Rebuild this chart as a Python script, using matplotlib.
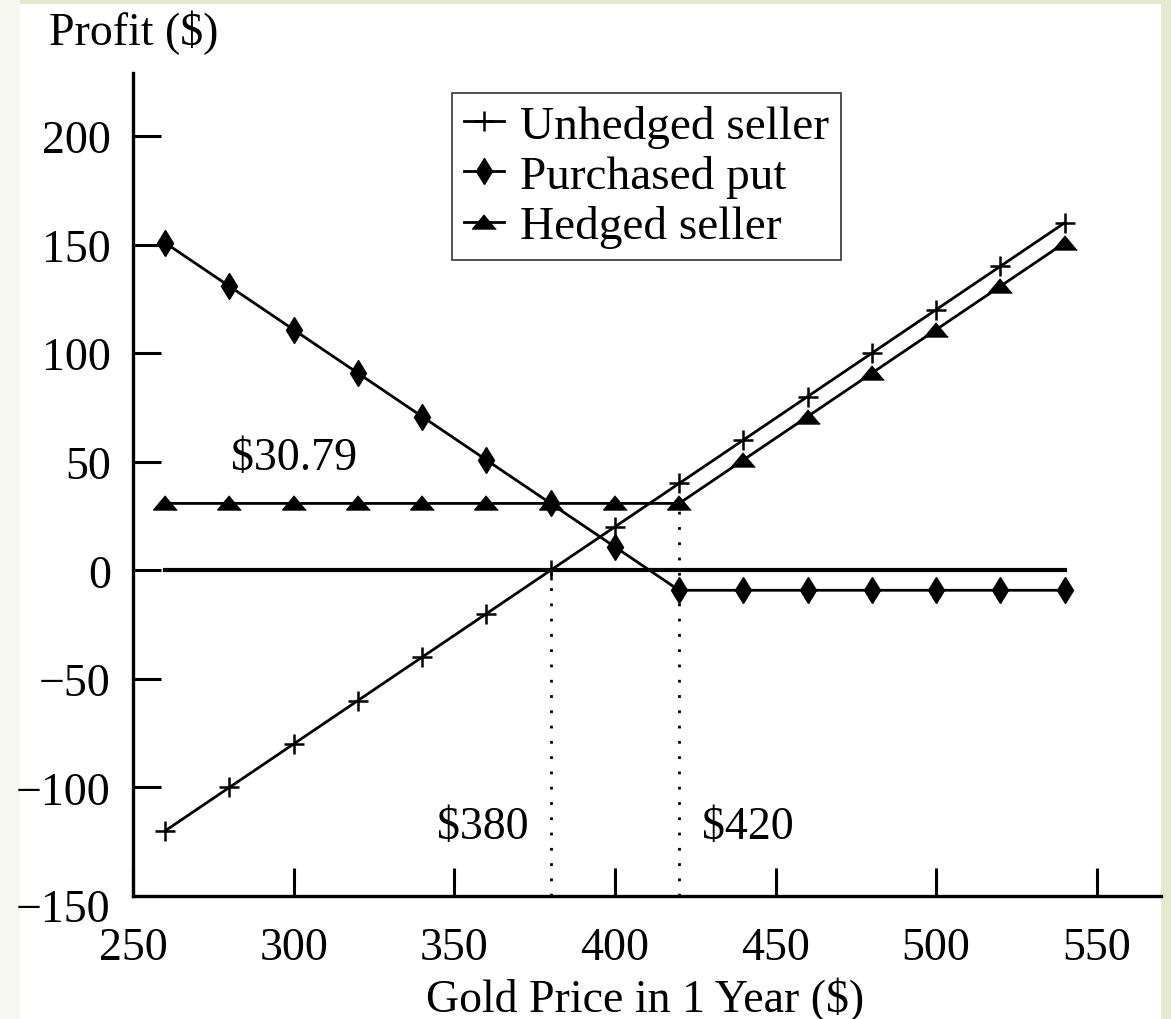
import numpy as np
import matplotlib
matplotlib.use('Agg')
import matplotlib.pyplot as plt
from matplotlib.patches import Rectangle

plt.rcParams['font.family'] = ['Liberation Serif', 'DejaVu Serif']

# gold price in one year and the profit of each position
price = [260, 280, 300, 320, 340, 360, 380, 400, 420, 440, 460, 480, 500, 520, 540]
unhedged = [-120, -100, -80, -60, -40, -20, 0, 20, 40, 60, 80, 100, 120, 140, 160]
put = [150.79, 130.79, 110.79, 90.79, 70.79, 50.79, 30.79, 10.79,
       -9.21, -9.21, -9.21, -9.21, -9.21, -9.21, -9.21]
hedged = [30.79, 30.79, 30.79, 30.79, 30.79, 30.79, 30.79, 30.79,
          30.79, 50.79, 70.79, 90.79, 110.79, 130.79, 150.79]

xticks = [250, 300, 350, 400, 450, 500, 550]
yticks = [-150, -100, -50, 0, 50, 100, 150, 200]

fs = 33
fig = plt.figure(figsize=(11.71, 10.20), dpi=100)
fig.patch.set_facecolor('#e2ebcd')
# white page over the green border, kept behind the axes
fig.add_artist(Rectangle((20/1171, 0), (1161-20)/1171, 1-5/1020,
                         transform=fig.transFigure, facecolor='white',
                         edgecolor='none', zorder=-10))
fig.add_artist(Rectangle((0, 0), 20/1171, 1, transform=fig.transFigure,
                         facecolor='#f6f7ee', edgecolor='none', zorder=-10))

ax = fig.add_axes([133/1171, 1-897/1020, (1161-133)/1171, (897-74)/1020])
ax.set_facecolor('none')

tri = [(0, 0.65), (-1, -0.55), (1, -0.55)]
ax.plot(price, unhedged, color='black', lw=2.0, marker='+', ms=15, mew=1.8,
        label='Unhedged seller', zorder=3)
ax.plot(price, put, color='black', lw=2.0, marker='d', ms=13,
        label='Purchased put', zorder=3)
ax.plot(price, hedged, color='black', lw=2.0, marker=tri, ms=17,
        label='Hedged seller', zorder=3)

# zero line and strike markers
ax.plot([price[0], price[-1]], [0, 0], color='black', lw=3.0, zorder=2)
ax.plot([380, 380], [-150, 0], color='black', lw=2.0, ls=(0, (1, 4.5)), zorder=2)
ax.plot([420, 420], [-150, 30.79], color='black', lw=2.0, ls=(0, (1, 4.5)), zorder=2)

ax.text(300, 52, '$30.79', fontsize=fs, ha='center', va='center')
ax.text(373, -118, '$380', fontsize=fs, ha='right', va='center')
ax.text(427, -118, '$420', fontsize=fs, ha='left', va='center')

ax.set_xlim(250, 570)
ax.set_ylim(-150, 229)
ax.set_xticks(xticks)
ax.set_yticks(yticks)
# lowest label sits a little below its tick, drawn separately
ax.set_yticklabels([''] + [str(v).replace('-', '\u2212') for v in yticks[1:]])
ax.annotate(str(yticks[0]).replace('-', '\u2212'), xy=(0, yticks[0]),
            xycoords=('axes fraction', 'data'), xytext=(-16, -10),
            textcoords='offset points', ha='right', va='center', fontsize=fs,
            annotation_clip=False)
ax.tick_params(direction='in', length=20, width=2.2, labelsize=fs)
ax.tick_params(axis='y', pad=16)
ax.tick_params(axis='x', pad=22)
for s in ['top', 'right']:
    ax.spines[s].set_visible(False)
for s in ['left', 'bottom']:
    ax.spines[s].set_linewidth(2.4)

fig.text(645/1171, 1-1012/1020, 'Gold Price in 1 Year ($)', fontsize=fs,
         ha='center', va='baseline')
fig.text(49/1171, 1-45/1020, 'Profit ($)', fontsize=fs, ha='left', va='baseline')

leg = ax.legend(loc='upper left', bbox_to_anchor=(452/1171, 1-94/1020),
                bbox_transform=fig.transFigure, fontsize=34, frameon=True,
                fancybox=False, handlelength=0.85, handletextpad=0.35,
                labelspacing=0.15, borderpad=0.25, borderaxespad=0)
leg.get_frame().set_edgecolor('black')
leg.get_frame().set_linewidth(1.2)

fig.savefig('out.png', dpi=100, facecolor=fig.get_facecolor())
